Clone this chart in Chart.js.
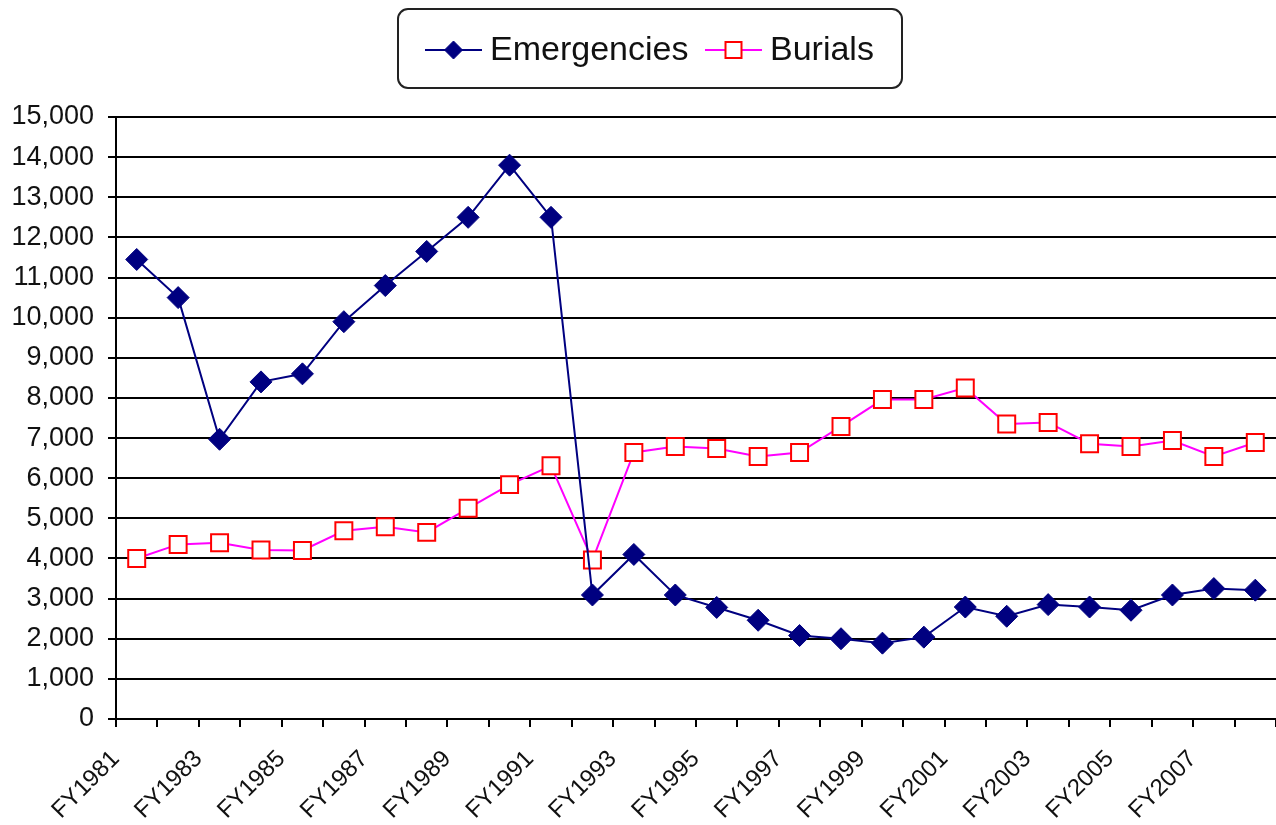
<!DOCTYPE html>
<html>
<head>
<meta charset="utf-8">
<script src="https://cdn.jsdelivr.net/npm/chart.js@4.4.1/dist/chart.umd.min.js"></script>
<style>
  html, body { margin: 0; padding: 0; background: #fff; }
  #wrap { width: 1276px; height: 825px; }
</style>
</head>
<body>
<div id="wrap"><canvas id="chart"></canvas></div>
<script>
// fiscal years on the x axis
const years = [
  'FY1981', 'FY1982', 'FY1983', 'FY1984', 'FY1985', 'FY1986', 'FY1987',
  'FY1988', 'FY1989', 'FY1990', 'FY1991', 'FY1992', 'FY1993', 'FY1994',
  'FY1995', 'FY1996', 'FY1997', 'FY1998', 'FY1999', 'FY2000', 'FY2001',
  'FY2002', 'FY2003', 'FY2004', 'FY2005', 'FY2006', 'FY2007', 'FY2008'
];

const emergencies = [
  11450, 10500, 6970, 8400, 8600, 9900, 10800,
  11650, 12500, 13800, 12500, 3090, 4100, 3090,
  2780, 2460, 2080, 2000, 1890, 2040, 2790,
  2560, 2850, 2790, 2710, 3090, 3250, 3210
];

const burials = [
  4000, 4350, 4390, 4210, 4200, 4690, 4790,
  4650, 5250, 5840, 6310, 3960, 6640, 6790,
  6740, 6540, 6640, 7290, 7960, 7960, 8250,
  7350, 7390, 6860, 6790, 6940, 6540, 6890
];

const yMin = 0;
const yMax = 15000;
const yStep = 1000;

const FONT = '"Liberation Sans", Arial, sans-serif';

// draws the boxed legend above the plot (line sample + marker + label)
const legendBox = {
  id: 'legendBox',
  afterDraw(chart) {
    const ctx = chart.ctx;
    ctx.save();
    ctx.lineWidth = 2;
    ctx.strokeStyle = '#222';
    ctx.beginPath();
    ctx.roundRect(398, 9, 504, 79, 10);
    ctx.stroke();

    const items = [
      { ds: chart.data.datasets[0], x: 425, textX: 490 },
      { ds: chart.data.datasets[1], x: 705, textX: 770 }
    ];
    const y = 50;
    items.forEach(({ ds, x, textX }) => {
      ctx.strokeStyle = ds.borderColor;
      ctx.lineWidth = 2;
      ctx.beginPath();
      ctx.moveTo(x, y);
      ctx.lineTo(x + 57, y);
      ctx.stroke();
      const cx = x + 28.5;
      ctx.fillStyle = ds.pointBackgroundColor;
      ctx.strokeStyle = ds.pointBorderColor;
      ctx.lineWidth = ds.pointBorderWidth;
      ctx.beginPath();
      if (ds.pointStyle === 'rectRot') {
        const r = 9;
        ctx.moveTo(cx, y - r);
        ctx.lineTo(cx + r, y);
        ctx.lineTo(cx, y + r);
        ctx.lineTo(cx - r, y);
        ctx.closePath();
      } else {
        const h = 8;
        ctx.rect(cx - h, y - h, 2 * h, 2 * h);
      }
      ctx.fill();
      ctx.stroke();

      ctx.fillStyle = '#111';
      ctx.font = '34px ' + FONT;
      ctx.textBaseline = 'middle';
      ctx.textAlign = 'left';
      ctx.fillText(ds.label, textX, y + 1);
    });
    ctx.restore();
  }
};

const ctx = document.getElementById('chart');

new Chart(ctx, {
  type: 'line',
  data: {
    labels: years,
    datasets: [
      {
        label: 'Emergencies',
        data: emergencies,
        borderColor: '#000080',
        borderWidth: 2,
        pointStyle: 'rectRot',
        pointRadius: 11,
        pointBackgroundColor: '#000080',
        pointBorderColor: '#000080',
        pointBorderWidth: 1,
        tension: 0,
      },
      {
        label: 'Burials',
        data: burials,
        borderColor: '#FF00FF',
        borderWidth: 2,
        pointStyle: 'rect',
        pointRadius: 12,
        pointBackgroundColor: '#ffffff',
        pointBorderColor: '#FF0000',
        pointBorderWidth: 2,
        tension: 0,
      },
    ],
  },
  options: {
    responsive: true,
    maintainAspectRatio: false,
    animation: false,
    layout: {
      autoPadding: false,
      padding: { top: 117, left: 0, right: 0, bottom: 0 },
    },
    plugins: {
      legend: { display: false },
      tooltip: { enabled: false },
    },
    scales: {
      x: {
        offset: true,
        border: { color: '#000', width: 2 },
        grid: {
          offset: true,
          drawOnChartArea: false,
          drawTicks: true,
          tickLength: 8,
          color: '#000',
          lineWidth: 2,
        },
        ticks: {
          autoSkip: false,
          maxRotation: 45,
          minRotation: 45,
          padding: 18,
          labelOffset: -21,
          color: '#111',
          font: { family: FONT, size: 24 },
          callback: (value, index) => (index % 2 === 0 ? years[index] : ''),
        },
        afterFit: (scale) => {
          scale.height = 106;
          scale.paddingRight = 0;
          scale.paddingLeft = 0;
        },
      },
      y: {
        min: yMin,
        max: yMax,
        border: { color: '#000', width: 2 },
        grid: {
          color: '#000',
          lineWidth: 2,
          tickLength: 8,
        },
        ticks: {
          stepSize: yStep,
          padding: 14,
          color: '#111',
          font: { family: FONT, size: 27 },
          callback: (value) => value.toLocaleString('en-US'),
        },
        afterFit: (scale) => {
          scale.width = 116;
        },
      },
    },
  },
  plugins: [legendBox],
});
</script>
</body>
</html>
